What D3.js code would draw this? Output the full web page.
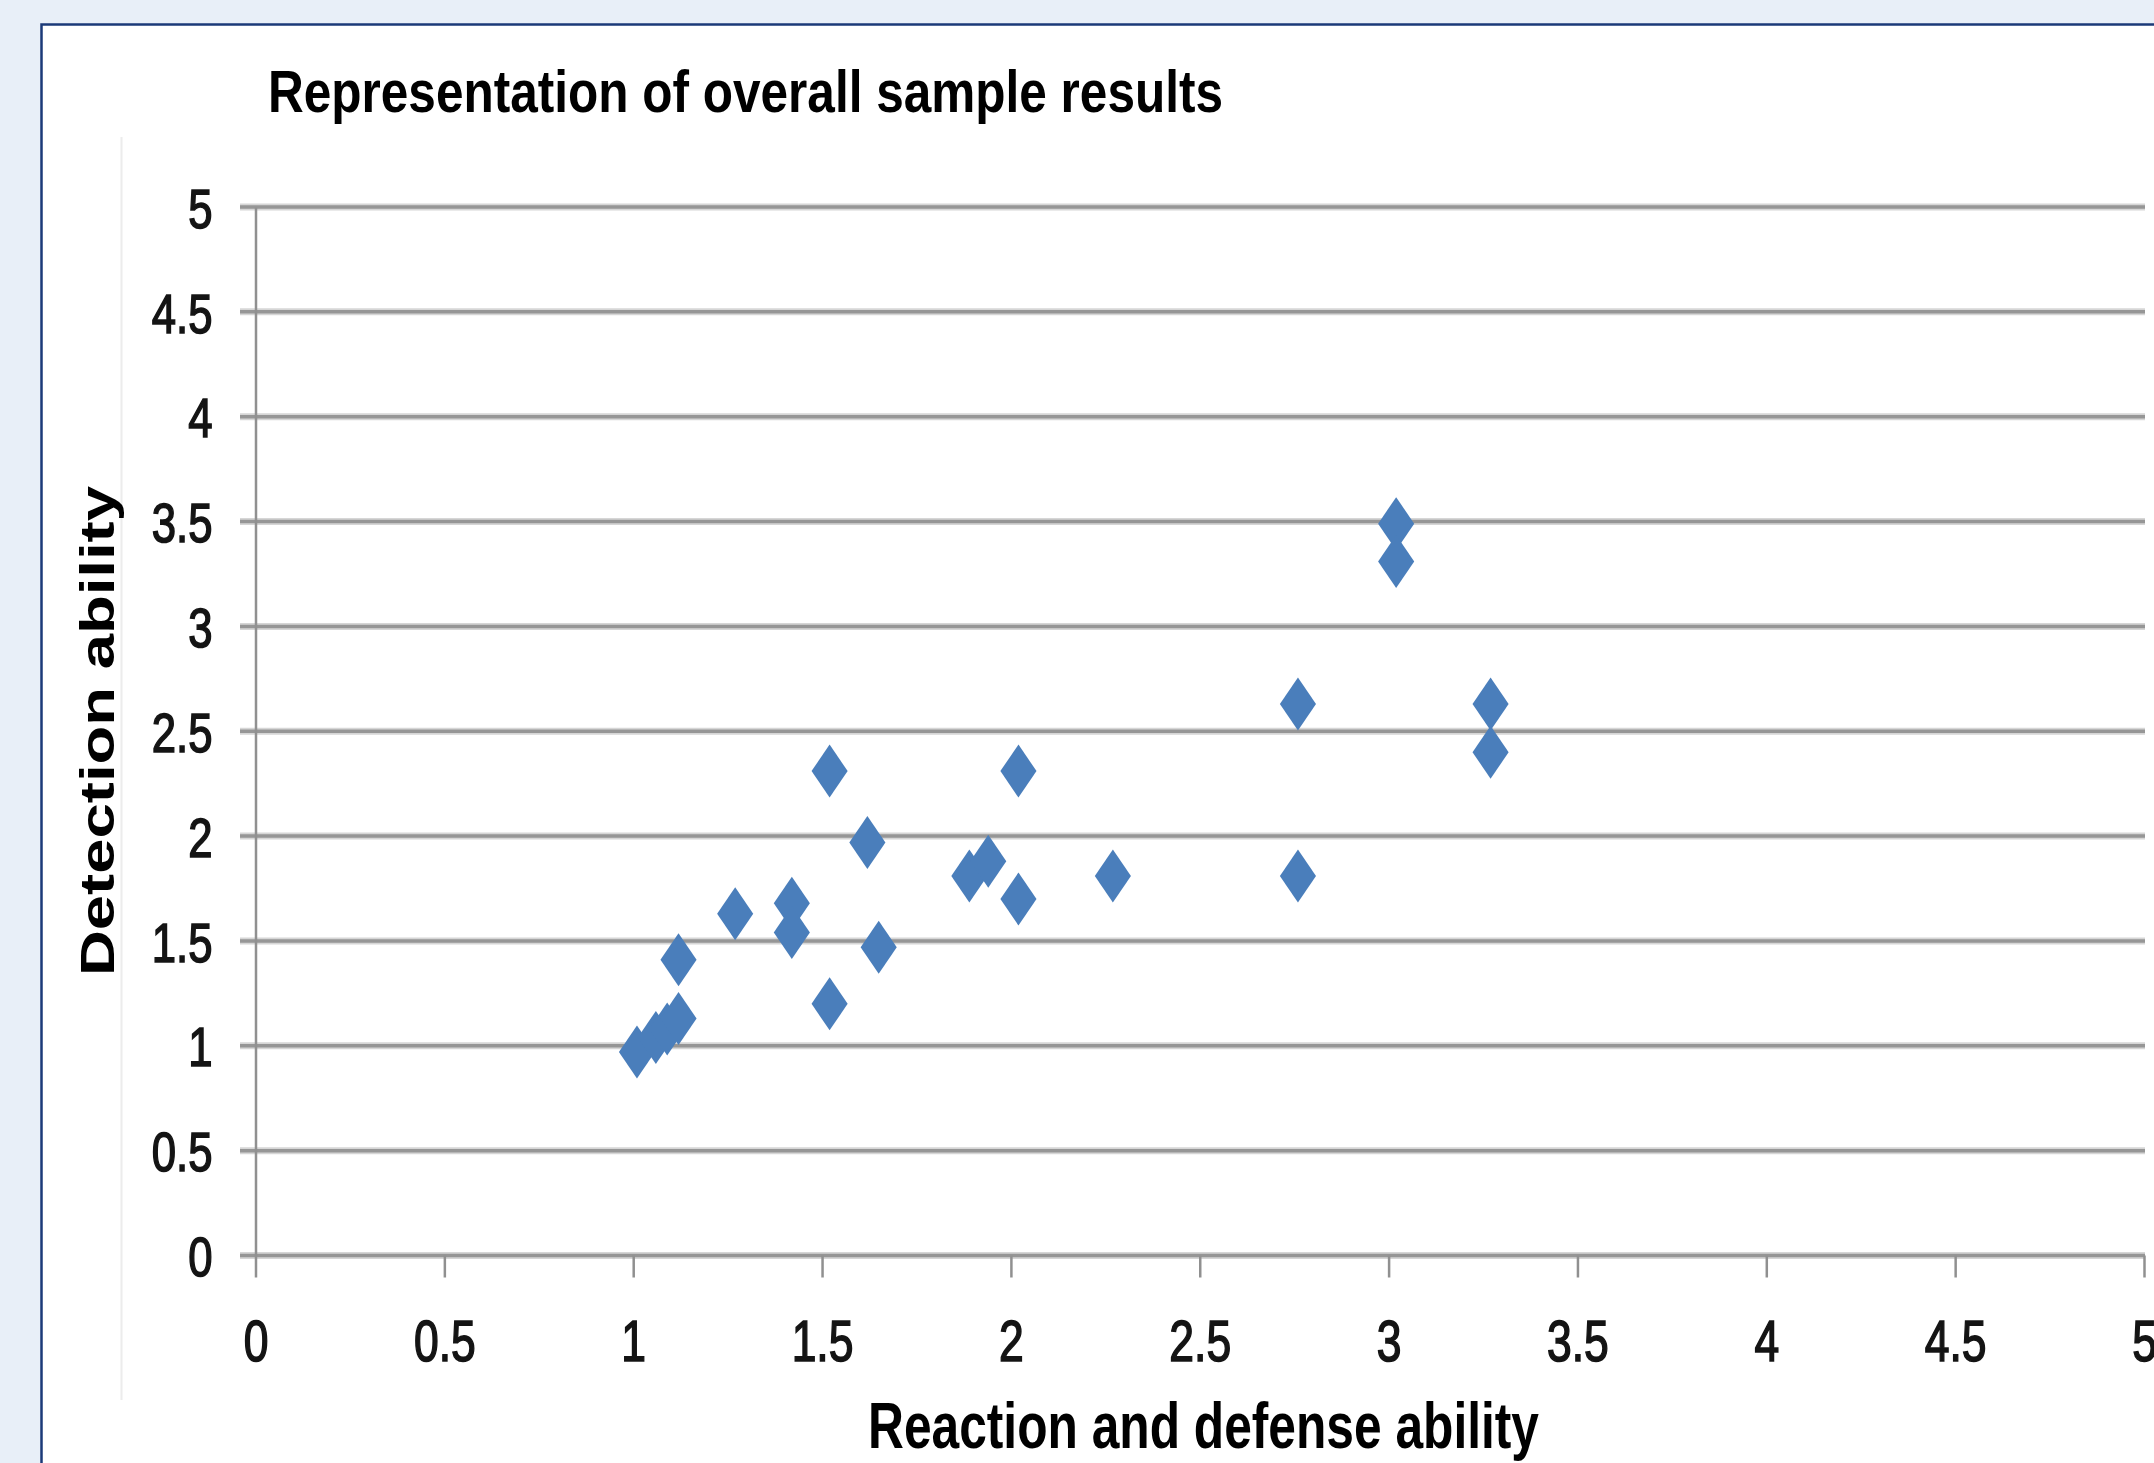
<!DOCTYPE html>
<html>
<head>
<meta charset="utf-8">
<script src="https://cdn.jsdelivr.net/npm/d3@7"></script>
<style>
  html, body { margin: 0; padding: 0; background: #e8eff8; }
  svg { display: block; }
  text { font-family: "Liberation Sans", Arial, sans-serif; }
</style>
</head>
<body>
<div id="chart"></div>
<script>
// values
var reactionValues = [1.01, 1.06, 1.09, 1.12, 1.12, 1.27, 1.42, 1.42, 1.52, 1.52, 1.62, 1.65,
                      1.89, 1.94, 2.02, 2.02, 2.27, 2.76, 2.76, 3.02, 3.02, 3.27, 3.27];
var detectionValues = [0.97, 1.04, 1.08, 1.13, 1.41, 1.63, 1.68, 1.54, 2.31, 1.20, 1.97, 1.47,
                       1.81, 1.88, 2.31, 1.70, 1.81, 2.63, 1.81, 3.49, 3.31, 2.63, 2.40];
var xTicks = [0, 0.5, 1, 1.5, 2, 2.5, 3, 3.5, 4, 4.5, 5];
var yTicks = [0, 0.5, 1, 1.5, 2, 2.5, 3, 3.5, 4, 4.5, 5];
var chartTitle = "Representation of overall sample results";
var xTitle = "Reaction and defense ability";
var yTitle = "Detection ability";

var W = 2154, H = 1463,
    sx = 0.78; // the picture is squeezed sideways

var svg = d3.select("#chart").append("svg")
  .attr("width", W).attr("height", H);

// outer panel
svg.append("rect")
  .attr("x", 41.5).attr("y", 24.5)
  .attr("width", W + 20).attr("height", H + 20)
  .attr("fill", "#fff")
  .attr("stroke", "#1b3a78").attr("stroke-width", 2.5);

// faint chart area edge
svg.append("line")
  .attr("x1", 121.5).attr("x2", 121.5).attr("y1", 137).attr("y2", 1400)
  .attr("stroke", "#ececec").attr("stroke-width", 2);

var x = d3.scaleLinear().domain([0, 5]).range([255.5, 2144]);
var y = d3.scaleLinear().domain([0, 5]).range([1255.5, 207]);

// gridlines
var grid = svg.append("g");
grid.selectAll("line.halo").data(yTicks).join("line")
  .attr("class", "halo")
  .attr("x1", 240).attr("x2", x(5) + 1)
  .attr("y1", function(d) { return y(d); }).attr("y2", function(d) { return y(d); })
  .attr("stroke", "#d6d6d6").attr("stroke-width", 7);
grid.selectAll("line.core").data(yTicks).join("line")
  .attr("class", "core")
  .attr("x1", 240).attr("x2", x(5) + 1)
  .attr("y1", function(d) { return y(d); }).attr("y2", function(d) { return y(d); })
  .attr("stroke", "#969696").attr("stroke-width", 3.5);

// x axis
var gx = svg.append("g")
  .attr("transform", "translate(0," + y(0) + ")")
  .call(d3.axisBottom(x).tickValues(xTicks).tickSize(22).tickFormat(d3.format("")));
gx.select(".domain").remove();
gx.selectAll(".tick line").attr("stroke", "#909090").attr("stroke-width", 2.5);
gx.selectAll(".tick text")
  .attr("fill", "#141414")
  .attr("stroke", "#141414").attr("stroke-width", 1.6)
  .attr("font-size", 57)
  .attr("y", 106).attr("dy", 0).attr("x", 0)
  .attr("transform", "scale(" + sx + ",1)");

// y axis
var gy = svg.append("g")
  .attr("transform", "translate(" + x(0) + ",0)")
  .call(d3.axisLeft(y).tickValues(yTicks).tickSize(0).tickFormat(d3.format("")));
gy.select(".domain").attr("stroke", "#909090").attr("stroke-width", 2.5);
gy.selectAll(".tick text")
  .attr("fill", "#141414")
  .attr("stroke", "#141414").attr("stroke-width", 1.6)
  .attr("font-size", 56)
  .attr("x", -43 / sx).attr("dy", "0.36em")
  .attr("transform", "scale(" + sx + ",1)");

// points
var pts = reactionValues.map(function(v, i) { return [v, detectionValues[i]]; });
var diamond = d3.symbol().type(d3.symbolDiamond).size(811);
svg.append("g").selectAll("path").data(pts).join("path")
  .attr("d", diamond)
  .attr("transform", function(d) {
    return "translate(" + x(d[0]) + "," + y(d[1]) + ") scale(1.18,1)";
  })
  .attr("fill", "#4a7ebb");

// titles
svg.append("text")
  .attr("x", 268).attr("y", 112)
  .attr("font-size", 60).attr("font-weight", "bold").attr("fill", "#000")
  .attr("textLength", 955).attr("lengthAdjust", "spacingAndGlyphs")
  .text(chartTitle);

svg.append("text")
  .attr("x", 868).attr("y", 1448)
  .attr("font-size", 64).attr("font-weight", "bold").attr("fill", "#000")
  .attr("textLength", 671).attr("lengthAdjust", "spacingAndGlyphs")
  .text(xTitle);

svg.append("text")
  .attr("transform", "translate(114,976) rotate(-90)")
  .attr("font-size", 49).attr("font-weight", "bold").attr("fill", "#000")
  .attr("textLength", 490).attr("lengthAdjust", "spacingAndGlyphs")
  .text(yTitle);
</script>
</body>
</html>
